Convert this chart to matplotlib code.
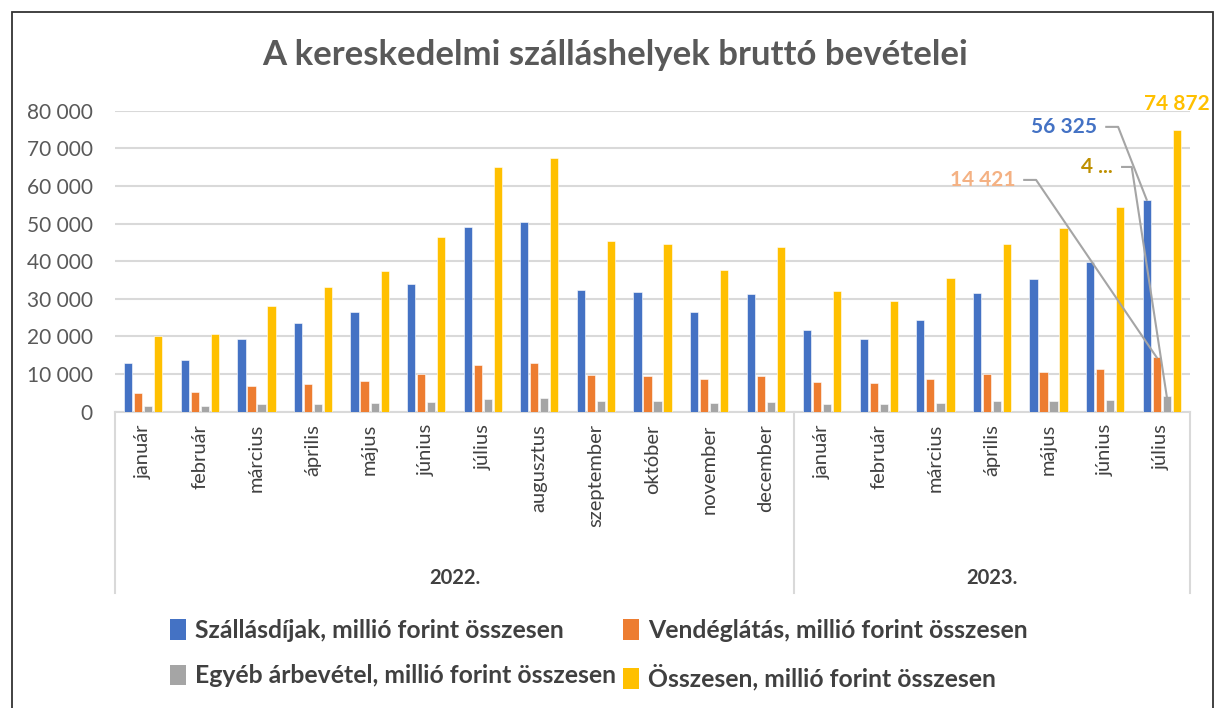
import matplotlib.pyplot as plt
import matplotlib.transforms as mtransforms
from matplotlib.patches import Patch, Rectangle
import numpy as np

plt.rcParams['font.family'] = ['Lato', 'DejaVu Sans']

months = ['január', 'február', 'március', 'április', 'május', 'június', 'július',
          'augusztus', 'szeptember', 'október', 'november', 'december',
          'január', 'február', 'március', 'április', 'május', 'június', 'július']
years = ['2022.', '2023.']
year_len = [12, 7]

szallas = [13000, 13700, 19300, 23500, 26500, 33850, 49000, 50400, 32300, 31800, 26500, 31300,
           21700, 19400, 24300, 31600, 35250, 39800, 56325]
vendeg = [5000, 5300, 6800, 7350, 8250, 9900, 12400, 12900, 9750, 9550, 8600, 9400,
          7900, 7700, 8700, 10100, 10450, 11250, 14421]
egyeb = [1500, 1500, 2000, 2100, 2300, 2600, 3450, 3650, 2900, 2850, 2400, 2600,
         2050, 2000, 2300, 2750, 2850, 3100, 4126]
osszes = [20000, 20700, 28100, 33100, 37300, 46500, 65000, 67400, 45300, 44550, 37750, 43700,
          32000, 29500, 35500, 44650, 48800, 54400, 74872]

series = [szallas, vendeg, egyeb, osszes]
names = ['Szállásdíjak, millió forint összesen', 'Vendéglátás, millió forint összesen',
         'Egyéb árbevétel, millió forint összesen', 'Összesen, millió forint összesen']
colors = ['#4472C4', '#ED7D31', '#A5A5A5', '#FFC000']
label_colors = ['#4472C4', '#F4B183', '#BF9000', '#FFC000']

W, H = 1216, 708
fig = plt.figure(figsize=(W / 100, H / 100), dpi=100)
ax = fig.add_axes([115 / W, 1 - 411.7 / H, 1075 / W, 301 / H])

x = np.arange(len(months))
step = 0.177
bw = 0.145
for i, (vals, c) in enumerate(zip(series, colors)):
    ax.bar(x + (i - 1.5) * step, vals, bw, color=c, edgecolor='white', linewidth=0.4, zorder=3)

ax.set_xlim(-0.5, len(months) - 0.5)
ax.set_ylim(0, 80000)
ax.set_yticks(range(0, 80001, 10000))
ax.set_yticklabels([f'{v:,}'.replace(',', ' ') for v in range(0, 80001, 10000)])
ax.yaxis.grid(True, color='#D9D9D9', linewidth=1.5, zorder=0)
ax.tick_params(axis='y', length=0, labelsize=15, labelcolor='#595959', pad=16)
ax.set_xticks(x)
ax.set_xticklabels(months, rotation=90, fontsize=14.5, color='#404040')
ax.tick_params(axis='x', length=0, pad=9)
for s in ['top', 'right', 'left']:
    ax.spines[s].set_visible(False)
ax.spines['bottom'].set_color('#D9D9D9')
ax.spines['bottom'].set_linewidth(1.5)

# category axis boxes and year labels
trans = mtransforms.blended_transform_factory(ax.transData, ax.transAxes)
bottom_y = -(593 - 411.7) / 301
start = -0.5
for yr, n in zip(years, year_len):
    ax.plot([start, start], [0, bottom_y], transform=trans, color='#D9D9D9', lw=1.5, clip_on=False)
    ax.text(start + n / 2, -(578 - 411.7) / 301, yr, transform=trans, ha='center', va='center',
            fontsize=14.5, fontweight='bold', color='#404040')
    start += n
ax.plot([start, start], [0, bottom_y], transform=trans, color='#D9D9D9', lw=1.5, clip_on=False)

# data labels for the last month
last = len(months) - 1
lab_pos = [(16.86, 75700, 17.23), (15.41, 61600, 15.78), (17.14, 65050, 17.47)]
for i, (tx, ty, ex) in enumerate(lab_pos):
    val = series[i][last]
    txt = f'{val:,}'.replace(',', ' ') if i != 2 else '4 ...'
    ax.text(tx, ty, txt, ha='right', va='center', fontsize=15, fontweight='bold',
            color=label_colors[i], zorder=5)
    bx = last + (i - 1.5) * step
    ax.plot([tx + 0.16, ex, bx], [ty, ty, val], color='#A5A5A5', lw=1.5, zorder=4, clip_on=False)
ax.text(last + 1.5 * step, osszes[last] + 7000, f'{osszes[last]:,}'.replace(',', ' '),
        ha='center', va='center', fontsize=15, fontweight='bold', color=label_colors[3])

fig.text(615 / W, 1 - 55 / H, 'A kereskedelmi szálláshelyek bruttó bevételei', ha='center',
         va='center', fontsize=25, fontweight='bold', color='#595959')

# legend filled row by row like the original
order = [0, 2, 1, 3]
handles = [Patch(facecolor=colors[k]) for k in order]
fig.legend(handles, [names[k] for k in order], ncol=2, loc='center',
           bbox_to_anchor=(599 / W, 1 - 655 / H),
           frameon=False, handlelength=0.65, handleheight=0.9, handletextpad=0.35,
           columnspacing=0.3, labelspacing=0.9,
           prop={'size': 17.8, 'weight': 'bold'}, labelcolor='#404040')

fig.patches.append(Rectangle((12 / W, -0.01), 1201 / W, 1 - 12 / H + 0.01,
                             transform=fig.transFigure, fill=False, edgecolor='#333333', lw=1.3))

fig.savefig('out.png', dpi=100)
